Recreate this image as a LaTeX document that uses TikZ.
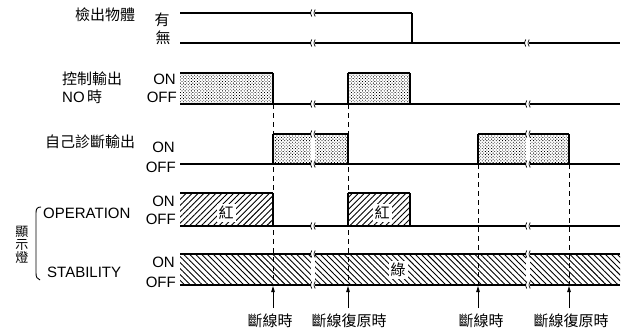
\documentclass[tikz,border=0pt]{standalone}
\usepackage{fontspec}
\setmainfont{Liberation Sans}
\newfontfamily\cjk{Noto Sans CJK TC}
\usetikzlibrary{patterns,patterns.meta,arrows.meta}
\tikzset{
  lbl/.style={font=\fontsize{15}{15}\selectfont, inner sep=0pt},
  cj/.style={font=\fontsize{15}{15}\selectfont\cjk, inner sep=0pt},
  cjs/.style={font=\fontsize{13}{13}\selectfont\cjk, inner sep=0pt},
  sig/.style={line width=1.2pt},
  onl/.style={line width=2.4pt},
  edge/.style={line width=1.1pt},
  dotfill/.style={pattern={Dots[distance=2.2pt, angle=45, radius=0.6pt]}, pattern color=black},
  hatchA/.style={pattern={Lines[angle=45,distance=4.2pt,line width=0.9pt]}},
  hatchB/.style={pattern={Lines[angle=-45,distance=4.2pt,line width=0.9pt]}},
  evd/.style={dash pattern=on 5pt off 4pt, line width=0.8pt},
  evarrow/.style={-{Triangle[length=6pt,width=3.5pt]}, line width=1pt},
  brkmark/.style={line width=0.7pt},
}
\newcommand\brkline[2]{%
  \fill[white] (#1-1.8,#2-3.5) rectangle (#1+1.8,#2+3.5);
  \draw[brkmark] (#1-1.2,#2-3.5) .. controls (#1-2.8,#2) .. (#1-1.2,#2+3.5);
  \draw[brkmark] (#1+2.2,#2-3.5) .. controls (#1+0.6,#2) .. (#1+2.2,#2+3.5);
}
\newcommand\brkbox[3]{%
  \fill[white] (#1-1.8,#2-3.5) rectangle (#1+1.8,#3+3.5);
  \draw[brkmark] (#1-1.2,#2-3.5) .. controls (#1-2.8,#2) .. (#1-1.2,#2+3.5);
  \draw[brkmark] (#1+2.2,#2-3.5) .. controls (#1+0.6,#2) .. (#1+2.2,#2+3.5);
  \draw[brkmark] (#1-1.2,#3-3.5) .. controls (#1-2.8,#3) .. (#1-1.2,#3+3.5);
  \draw[brkmark] (#1+2.2,#3-3.5) .. controls (#1+0.6,#3) .. (#1+2.2,#3+3.5);
}
\begin{document}
\begin{tikzpicture}[x=1pt,y=-1pt]
\useasboundingbox (0,0) rectangle (623,332);

% ---------- left labels ----------
\node[cj] (obj) at (105,15) {檢出物體};
\node[cj] (yes) at (162,20) {有};
\node[cj] (no) at (163,38) {無};

\node[cj, anchor=west] (ctl1) at (62,79) {控制輸出};
\node[lbl, anchor=west] (ctl2) at (62,97) {NO\,{\cjk 時}};
\node[lbl, anchor=east] (on2) at (176,79) {ON};
\node[lbl, anchor=east] (off2) at (177,97) {OFF};

\node[cj, anchor=west] (diag) at (45,142) {自己診斷輸出};
\node[lbl, anchor=east] (on3) at (175,147) {ON};
\node[lbl, anchor=east] (off3) at (176,167) {OFF};

\node[lbl, anchor=west] (oper) at (43,213) {OPERATION};
\node[lbl, anchor=east] (on4) at (175,201) {ON};
\node[lbl, anchor=east] (off4) at (176,219) {OFF};

\node[lbl, anchor=west] (stab) at (47,272) {STABILITY};
\node[lbl, anchor=east] (on5) at (175,262) {ON};
\node[lbl, anchor=east] (off5) at (176,282) {OFF};

\node[cjs] (ind1) at (22,232) {顯};
\node[cjs] (ind2) at (22,245) {示};
\node[cjs] (ind3) at (22,258) {燈};
\draw[line width=0.9pt] (41,207) .. controls (37,207) and (36,209) .. (36,213)
  -- (36,273) .. controls (36,277) and (37,279) .. (40,280);

% ---------- fills ----------
\fill[dotfill] (180,73) rectangle (273,104);
\fill[dotfill] (348,73) rectangle (410,104);
\fill[dotfill] (273,134) rectangle (348,164);
\fill[dotfill] (478,134) rectangle (569,164);
\fill[hatchA] (180,193) rectangle (273,226);
\fill[hatchA] (348,193) rectangle (410,226);
\fill[hatchB] (180,254) rectangle (620,285);

% ---------- object row ----------
\draw[onl] (180,13) -- (412,13);
\draw[edge] (412,13) -- (412,43);
\draw[sig] (180,43) -- (620,43);

% ---------- control output ----------
\draw[onl] (180,73) -- (273,73);
\draw[edge] (273,73) -- (273,104);
\draw[onl] (348,73) -- (410,73);
\draw[edge] (348,104) -- (348,73);
\draw[edge] (410,73) -- (410,104);
\draw[sig] (180,104) -- (620,104);

% ---------- self diagnosis ----------
\draw[sig] (180,164) -- (620,164);
\draw[onl] (273,134) -- (348,134);
\draw[edge] (273,164) -- (273,134);
\draw[edge] (348,134) -- (348,164);
\draw[onl] (478,134) -- (569,134);
\draw[edge] (478,164) -- (478,134);
\draw[edge] (569,134) -- (569,164);

% ---------- operation ----------
\draw[onl] (180,193) -- (273,193);
\draw[edge] (273,193) -- (273,226);
\draw[onl] (348,193) -- (410,193);
\draw[edge] (348,226) -- (348,193);
\draw[edge] (410,193) -- (410,226);
\draw[sig] (180,226) -- (620,226);

% ---------- stability ----------
\draw[onl] (180,254) -- (620,254);
\draw[line width=1.5pt] (180,285) -- (620,285);

% ---------- event lines ----------
\coordinate (d1) at (273,104);
\coordinate (d2) at (348,104);
\coordinate (d3) at (478,164);
\coordinate (d4) at (569,164);
\coordinate (e1) at (273,286);
\coordinate (e2) at (348,286);
\coordinate (e3) at (478,286);
\coordinate (e4) at (569,286);
\coordinate (a1) at (273,308);
\coordinate (a2) at (348,308);
\coordinate (a3) at (478,308);
\coordinate (a4) at (569,308);
\draw[evd] (d1) -- (e1);
\draw[evd] (d2) -- (e2);
\draw[evd] (d3) -- (e3);
\draw[evd] (d4) -- (e4);
\draw[evarrow] (a1) -- (e1);
\draw[evarrow] (a2) -- (e2);
\draw[evarrow] (a3) -- (e3);
\draw[evarrow] (a4) -- (e4);

% ---------- breaks ----------
\brkline{313}{13}
\brkline{313}{43}
\brkline{527}{43}
\brkline{313}{104}
\brkline{528}{104}
\brkbox{313}{134}{164}
\brkbox{528}{134}{164}
\brkline{313}{226}
\brkline{528}{226}
\brkbox{313}{254}{285}
\brkbox{528}{254}{285}

% ---------- in-box labels ----------
\node[cj, fill=white, inner sep=2pt] (red1) at (226,213) {紅};
\node[cj, fill=white, inner sep=2pt] (red2) at (382,213) {紅};
\node[cj, fill=white, inner sep=2pt] (grn) at (398,270) {綠};

% ---------- bottom labels ----------
\node[cj] (b1) at (270,321) {斷線時};
\node[cj] (b2) at (349,321) {斷線復原時};
\node[cj] (b3) at (481,321) {斷線時};
\node[cj] (b4) at (571,321) {斷線復原時};
\end{tikzpicture}
\end{document}
